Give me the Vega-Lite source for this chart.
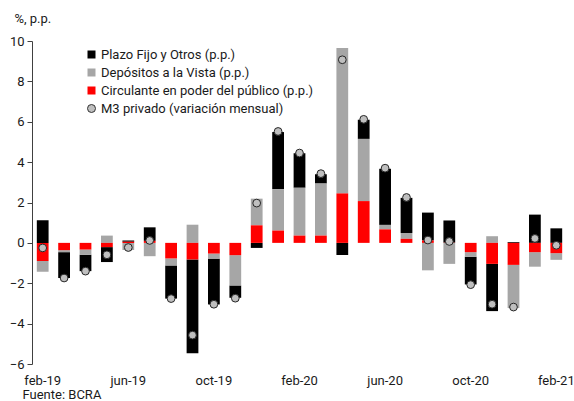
{
  "$schema": "https://vega.github.io/schema/vega-lite/v6.json",
  "width": 535,
  "height": 323,
  "autosize": {"type": "none"},
  "padding": {"left": 32, "top": 41, "right": 7, "bottom": 37},
  "background": "white",
  "config": {
    "font": "Roboto",
    "view": {"stroke": null},
    "axis": {"labelFont": "Roboto", "titleFont": "Roboto", "labelColor": "#1a1a1a", "titleColor": "#1a1a1a"}
  },
  "datasets": {
    "barras": [
      {"mes": "feb-19", "serie": "Plazo Fijo y Otros (p.p.)", "ord": 3, "valor": 1.12},
      {"mes": "feb-19", "serie": "Depósitos a la Vista (p.p.)", "ord": 2, "valor": -0.53},
      {"mes": "feb-19", "serie": "Circulante en poder del público (p.p.)", "ord": 1, "valor": -0.90},
      {"mes": "mar-19", "serie": "Plazo Fijo y Otros (p.p.)", "ord": 3, "valor": -1.28},
      {"mes": "mar-19", "serie": "Depósitos a la Vista (p.p.)", "ord": 2, "valor": -0.10},
      {"mes": "mar-19", "serie": "Circulante en poder del público (p.p.)", "ord": 1, "valor": -0.36},
      {"mes": "abr-19", "serie": "Plazo Fijo y Otros (p.p.)", "ord": 3, "valor": -0.81},
      {"mes": "abr-19", "serie": "Depósitos a la Vista (p.p.)", "ord": 2, "valor": -0.26},
      {"mes": "abr-19", "serie": "Circulante en poder del público (p.p.)", "ord": 1, "valor": -0.33},
      {"mes": "may-19", "serie": "Plazo Fijo y Otros (p.p.)", "ord": 3, "valor": -0.74},
      {"mes": "may-19", "serie": "Depósitos a la Vista (p.p.)", "ord": 2, "valor": 0.36},
      {"mes": "may-19", "serie": "Circulante en poder del público (p.p.)", "ord": 1, "valor": -0.21},
      {"mes": "jun-19", "serie": "Plazo Fijo y Otros (p.p.)", "ord": 3, "valor": 0.07},
      {"mes": "jun-19", "serie": "Depósitos a la Vista (p.p.)", "ord": 2, "valor": -0.35},
      {"mes": "jun-19", "serie": "Circulante en poder del público (p.p.)", "ord": 1, "valor": 0.05},
      {"mes": "jul-19", "serie": "Plazo Fijo y Otros (p.p.)", "ord": 3, "valor": 0.67},
      {"mes": "jul-19", "serie": "Depósitos a la Vista (p.p.)", "ord": 2, "valor": -0.66},
      {"mes": "jul-19", "serie": "Circulante en poder del público (p.p.)", "ord": 1, "valor": 0.10},
      {"mes": "ago-19", "serie": "Plazo Fijo y Otros (p.p.)", "ord": 3, "valor": -1.64},
      {"mes": "ago-19", "serie": "Depósitos a la Vista (p.p.)", "ord": 2, "valor": -0.35},
      {"mes": "ago-19", "serie": "Circulante en poder del público (p.p.)", "ord": 1, "valor": -0.77},
      {"mes": "sep-19", "serie": "Plazo Fijo y Otros (p.p.)", "ord": 3, "valor": -4.65},
      {"mes": "sep-19", "serie": "Depósitos a la Vista (p.p.)", "ord": 2, "valor": 0.90},
      {"mes": "sep-19", "serie": "Circulante en poder del público (p.p.)", "ord": 1, "valor": -0.82},
      {"mes": "oct-19", "serie": "Plazo Fijo y Otros (p.p.)", "ord": 3, "valor": -2.27},
      {"mes": "oct-19", "serie": "Depósitos a la Vista (p.p.)", "ord": 2, "valor": -0.25},
      {"mes": "oct-19", "serie": "Circulante en poder del público (p.p.)", "ord": 1, "valor": -0.53},
      {"mes": "nov-19", "serie": "Plazo Fijo y Otros (p.p.)", "ord": 3, "valor": -0.61},
      {"mes": "nov-19", "serie": "Depósitos a la Vista (p.p.)", "ord": 2, "valor": -1.50},
      {"mes": "nov-19", "serie": "Circulante en poder del público (p.p.)", "ord": 1, "valor": -0.61},
      {"mes": "dic-19", "serie": "Plazo Fijo y Otros (p.p.)", "ord": 3, "valor": -0.25},
      {"mes": "dic-19", "serie": "Depósitos a la Vista (p.p.)", "ord": 2, "valor": 1.32},
      {"mes": "dic-19", "serie": "Circulante en poder del público (p.p.)", "ord": 1, "valor": 0.87},
      {"mes": "ene-20", "serie": "Plazo Fijo y Otros (p.p.)", "ord": 3, "valor": 2.83},
      {"mes": "ene-20", "serie": "Depósitos a la Vista (p.p.)", "ord": 2, "valor": 2.05},
      {"mes": "ene-20", "serie": "Circulante en poder del público (p.p.)", "ord": 1, "valor": 0.61},
      {"mes": "feb-20", "serie": "Plazo Fijo y Otros (p.p.)", "ord": 3, "valor": 1.71},
      {"mes": "feb-20", "serie": "Depósitos a la Vista (p.p.)", "ord": 2, "valor": 2.37},
      {"mes": "feb-20", "serie": "Circulante en poder del público (p.p.)", "ord": 1, "valor": 0.36},
      {"mes": "mar-20", "serie": "Plazo Fijo y Otros (p.p.)", "ord": 3, "valor": 0.46},
      {"mes": "mar-20", "serie": "Depósitos a la Vista (p.p.)", "ord": 2, "valor": 2.58},
      {"mes": "mar-20", "serie": "Circulante en poder del público (p.p.)", "ord": 1, "valor": 0.36},
      {"mes": "abr-20", "serie": "Plazo Fijo y Otros (p.p.)", "ord": 3, "valor": -0.60},
      {"mes": "abr-20", "serie": "Depósitos a la Vista (p.p.)", "ord": 2, "valor": 7.20},
      {"mes": "abr-20", "serie": "Circulante en poder del público (p.p.)", "ord": 1, "valor": 2.45},
      {"mes": "may-20", "serie": "Plazo Fijo y Otros (p.p.)", "ord": 3, "valor": 0.95},
      {"mes": "may-20", "serie": "Depósitos a la Vista (p.p.)", "ord": 2, "valor": 3.08},
      {"mes": "may-20", "serie": "Circulante en poder del público (p.p.)", "ord": 1, "valor": 2.07},
      {"mes": "jun-20", "serie": "Plazo Fijo y Otros (p.p.)", "ord": 3, "valor": 2.78},
      {"mes": "jun-20", "serie": "Depósitos a la Vista (p.p.)", "ord": 2, "valor": 0.22},
      {"mes": "jun-20", "serie": "Circulante en poder del público (p.p.)", "ord": 1, "valor": 0.67},
      {"mes": "jul-20", "serie": "Plazo Fijo y Otros (p.p.)", "ord": 3, "valor": 1.74},
      {"mes": "jul-20", "serie": "Depósitos a la Vista (p.p.)", "ord": 2, "valor": 0.29},
      {"mes": "jul-20", "serie": "Circulante en poder del público (p.p.)", "ord": 1, "valor": 0.20},
      {"mes": "ago-20", "serie": "Plazo Fijo y Otros (p.p.)", "ord": 3, "valor": 1.38},
      {"mes": "ago-20", "serie": "Depósitos a la Vista (p.p.)", "ord": 2, "valor": -1.36},
      {"mes": "ago-20", "serie": "Circulante en poder del público (p.p.)", "ord": 1, "valor": 0.12},
      {"mes": "sep-20", "serie": "Plazo Fijo y Otros (p.p.)", "ord": 3, "valor": 1.10},
      {"mes": "sep-20", "serie": "Depósitos a la Vista (p.p.)", "ord": 2, "valor": -1.04},
      {"mes": "sep-20", "serie": "Circulante en poder del público (p.p.)", "ord": 1, "valor": 0.01},
      {"mes": "oct-20", "serie": "Plazo Fijo y Otros (p.p.)", "ord": 3, "valor": -1.37},
      {"mes": "oct-20", "serie": "Depósitos a la Vista (p.p.)", "ord": 2, "valor": -0.23},
      {"mes": "oct-20", "serie": "Circulante en poder del público (p.p.)", "ord": 1, "valor": -0.46},
      {"mes": "nov-20", "serie": "Plazo Fijo y Otros (p.p.)", "ord": 3, "valor": -2.34},
      {"mes": "nov-20", "serie": "Depósitos a la Vista (p.p.)", "ord": 2, "valor": 0.33},
      {"mes": "nov-20", "serie": "Circulante en poder del público (p.p.)", "ord": 1, "valor": -1.04},
      {"mes": "dic-20", "serie": "Plazo Fijo y Otros (p.p.)", "ord": 3, "valor": 0.04},
      {"mes": "dic-20", "serie": "Depósitos a la Vista (p.p.)", "ord": 2, "valor": -2.14},
      {"mes": "dic-20", "serie": "Circulante en poder del público (p.p.)", "ord": 1, "valor": -1.09},
      {"mes": "ene-21", "serie": "Plazo Fijo y Otros (p.p.)", "ord": 3, "valor": 1.40},
      {"mes": "ene-21", "serie": "Depósitos a la Vista (p.p.)", "ord": 2, "valor": -0.72},
      {"mes": "ene-21", "serie": "Circulante en poder del público (p.p.)", "ord": 1, "valor": -0.46},
      {"mes": "feb-21", "serie": "Plazo Fijo y Otros (p.p.)", "ord": 3, "valor": 0.72},
      {"mes": "feb-21", "serie": "Depósitos a la Vista (p.p.)", "ord": 2, "valor": -0.33},
      {"mes": "feb-21", "serie": "Circulante en poder del público (p.p.)", "ord": 1, "valor": -0.51}
    ],
    "m3": [
      {"mes": "feb-19", "m3": -0.25},
      {"mes": "mar-19", "m3": -1.74},
      {"mes": "abr-19", "m3": -1.40},
      {"mes": "may-19", "m3": -0.59},
      {"mes": "jun-19", "m3": -0.23},
      {"mes": "jul-19", "m3": 0.12},
      {"mes": "ago-19", "m3": -2.76},
      {"mes": "sep-19", "m3": -4.57},
      {"mes": "oct-19", "m3": -3.04},
      {"mes": "nov-19", "m3": -2.74},
      {"mes": "dic-19", "m3": 1.97},
      {"mes": "ene-20", "m3": 5.52},
      {"mes": "feb-20", "m3": 4.45},
      {"mes": "mar-20", "m3": 3.43},
      {"mes": "abr-20", "m3": 9.07},
      {"mes": "may-20", "m3": 6.12},
      {"mes": "jun-20", "m3": 3.70},
      {"mes": "jul-20", "m3": 2.25},
      {"mes": "ago-20", "m3": 0.14},
      {"mes": "sep-20", "m3": 0.07},
      {"mes": "oct-20", "m3": -2.07},
      {"mes": "nov-20", "m3": -3.04},
      {"mes": "dic-20", "m3": -3.18},
      {"mes": "ene-21", "m3": 0.22},
      {"mes": "feb-21", "m3": -0.12}
    ],
    "cero": [{"y": 0}]
  },
  "encoding": {
    "x": {
      "field": "mes",
      "type": "ordinal",
      "scale": {
        "domain": ["feb-19","mar-19","abr-19","may-19","jun-19","jul-19","ago-19","sep-19","oct-19","nov-19","dic-19","ene-20","feb-20","mar-20","abr-20","may-20","jun-20","jul-20","ago-20","sep-20","oct-20","nov-20","dic-20","ene-21","feb-21"],
        "paddingInner": 0.45,
        "paddingOuter": 0.225
      },
      "axis": {
        "values": ["feb-19","jun-19","oct-19","feb-20","jun-20","oct-20","feb-21"],
        "labelAngle": 0,
        "labelFontSize": 13,
        "labelPadding": 10,
        "domain": false,
        "ticks": false,
        "title": "Fuente: BCRA",
        "titleFontSize": 13,
        "titleFontWeight": "normal",
        "titleAnchor": "start",
        "titleAlign": "left",
        "titleBaseline": "middle",
        "titleX": -10,
        "titleY": 30
      }
    }
  },
  "layer": [
    {
      "data": {"name": "barras"},
      "mark": {"type": "bar"},
      "encoding": {
        "y": {
          "field": "valor",
          "type": "quantitative",
          "stack": "zero",
          "scale": {"domain": [-6, 10], "nice": false},
          "axis": {
            "values": [-6, -4, -2, 0, 2, 4, 6, 8, 10],
            "grid": false,
            "domain": true,
            "domainColor": "#404040",
            "domainWidth": 1,
            "ticks": true,
            "tickColor": "#404040",
            "tickSize": 5,
            "labelFontSize": 13,
            "labelPadding": 3,
            "title": "%, p.p.",
            "titleAngle": 0,
            "titleFontSize": 13,
            "titleFontWeight": "normal",
            "titleAlign": "left",
            "titleBaseline": "middle",
            "titleX": -18,
            "titleY": -23
          }
        },
        "color": {
          "field": "serie",
          "type": "nominal",
          "scale": {
            "domain": ["Plazo Fijo y Otros (p.p.)", "Depósitos a la Vista (p.p.)", "Circulante en poder del público (p.p.)", "M3 privado (variación mensual)"],
            "range": ["#000000", "#A6A6A6", "#FF0000", "#BFBFBF"]
          },
          "legend": {
            "title": null,
            "orient": "none",
            "legendX": 53,
            "legendY": 7,
            "labelFontSize": 13,
            "labelColor": "#1a1a1a",
            "labelLimit": 0,
            "labelOffset": 3,
            "rowPadding": 4,
            "symbolSize": 64,
            "symbolType": "square",
            "encode": {
              "symbols": {
                "update": {
                  "shape": {"signal": "datum.value === 'M3 privado (variación mensual)' ? 'circle' : 'square'"},
                  "stroke": {"signal": "datum.value === 'M3 privado (variación mensual)' ? '#333333' : null"},
                  "strokeWidth": {"value": 1}
                }
              }
            }
          }
        },
        "order": {"field": "ord", "type": "quantitative"}
      }
    },
    {
      "data": {"name": "cero"},
      "mark": {"type": "rule", "color": "#7f7f7f", "strokeWidth": 1.5},
      "encoding": {
        "y": {"field": "y", "type": "quantitative"}
      }
    },
    {
      "data": {"name": "m3"},
      "mark": {"type": "point", "shape": "circle", "filled": true, "fill": "#BFBFBF", "stroke": "#262626", "strokeWidth": 1, "size": 60, "opacity": 1},
      "encoding": {
        "y": {"field": "m3", "type": "quantitative"}
      }
    }
  ]
}
